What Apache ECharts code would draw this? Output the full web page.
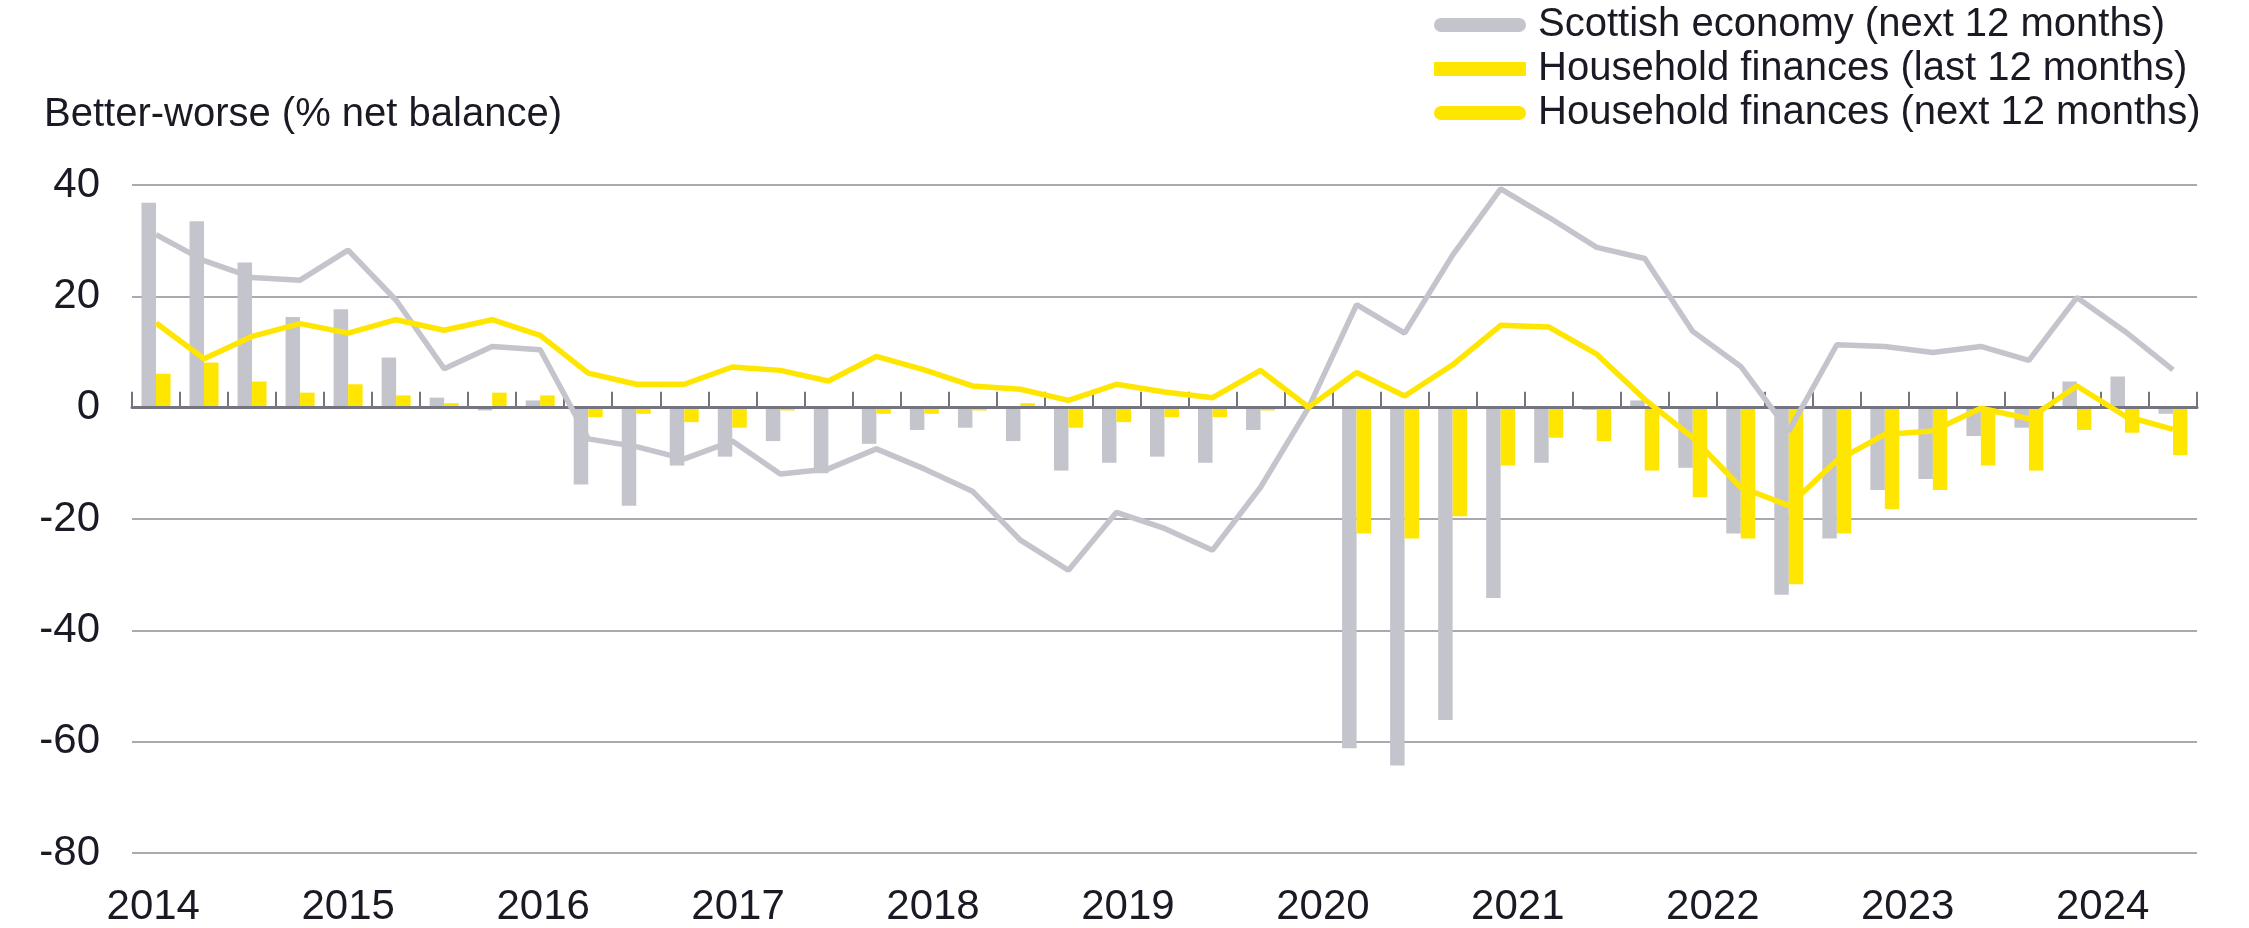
<!DOCTYPE html>
<html>
<head>
<meta charset="utf-8">
<script src="https://cdn.jsdelivr.net/npm/echarts@6/dist/echarts.min.js"></script>
<style>
  html, body { margin: 0; padding: 0; background: #fff; }
  #main { width: 2249px; height: 928px; }
</style>
</head>
<body>
<div id="main"></div>
<script>
const quarters = [
  '2014 Q1', '2014 Q2', '2014 Q3', '2014 Q4',
  '2015 Q1', '2015 Q2', '2015 Q3', '2015 Q4',
  '2016 Q1', '2016 Q2', '2016 Q3', '2016 Q4',
  '2017 Q1', '2017 Q2', '2017 Q3', '2017 Q4',
  '2018 Q1', '2018 Q2', '2018 Q3', '2018 Q4',
  '2019 Q1', '2019 Q2', '2019 Q3', '2019 Q4',
  '2020 Q1', '2020 Q2', '2020 Q3', '2020 Q4',
  '2021 Q1', '2021 Q2', '2021 Q3', '2021 Q4',
  '2022 Q1', '2022 Q2', '2022 Q3', '2022 Q4',
  '2023 Q1', '2023 Q2', '2023 Q3', '2023 Q4',
  '2024 Q1', '2024 Q2', '2024 Q3'
]
const yearLabels = [2014, 2015, 2016, 2017, 2018, 2019, 2020, 2021, 2022, 2023, 2024]

// grey bars (no legend entry in the original)
const scotLast = [
  36.8, 33.5, 26.1, 16.3, 17.7, 9.0, 1.8, -0.5, 1.3, -13.8,
  -17.6, -10.4, -8.8, -6.0, -11.8, -6.5, -4.0, -3.6, -6.0, -11.3,
  -9.9, -8.8, -9.9, -4.0, 0, -61.2, -64.3, -56.1, -34.2, -9.9,
  -0.4, 1.3, -10.8, -22.6, -33.6, -23.5, -14.8, -12.8, -5.1, -3.6,
  4.7, 5.6, -1.1
]
// yellow bars
const hhLast = [
  6.1, 8.1, 4.7, 2.7, 4.2, 2.2, 0.8, 2.7, 2.2, -1.7,
  -1.1, -2.6, -3.6, -0.5, 0.2, -1.1, -1.1, -0.5, 0.8, -3.6,
  -2.6, -1.7, -1.7, -0.5, 0, -22.6, -23.5, -19.5, -10.4, -5.4,
  -6.0, -11.3, -16.1, -23.5, -31.7, -22.6, -18.2, -14.8, -10.4, -11.3,
  -4.0, -4.5, -8.5
]
// grey line
const scotNext = [
  31.1, 26.4, 23.4, 22.9, 28.3, 19.3, 7.0, 11.0, 10.4, -5.6,
  -7.0, -9.2, -6.0, -11.9, -11.0, -7.4, -11.0, -15.0, -23.8, -29.2,
  -18.8, -21.7, -25.6, -14.3, 0, 18.5, 13.4, 27.4, 39.3, 34.2,
  28.8, 26.8, 13.7, 7.4, -4.2, 11.3, 11.0, 9.9, 11.0, 8.5,
  19.8, 13.7, 6.8
]
// yellow line
const hhNext = [
  15.2, 8.8, 12.8, 15.1, 13.4, 15.8, 13.9, 15.8, 13.0, 6.2,
  4.2, 4.2, 7.3, 6.7, 4.8, 9.2, 6.8, 3.9, 3.3, 1.3,
  4.2, 2.8, 1.8, 6.7, 0.1, 6.3, 2.1, 7.7, 14.8, 14.5,
  9.6, 1.5, -5.4, -14.3, -17.6, -9.5, -4.8, -4.2, -0.1, -2.0,
  3.9, -1.5, -3.9
]

const GREY = '#c4c4cd'
const YELLOW = '#ffe600'
const INK = '#1a1a24'
const FONT = 'Liberation Sans'
const pill = 'path://M7,0H85A7,7 0 0 1 85,14H7A7,7 0 0 1 7,0Z'

const chart = echarts.init(document.getElementById('main'))

chart.setOption({
  animation: false,
  textStyle: { fontFamily: FONT },
  title: {
    text: 'Better-worse (% net balance)',
    left: 39,
    top: 90,
    textStyle: { fontSize: 40, fontWeight: 'normal', color: INK, fontFamily: FONT }
  },
  legend: {
    orient: 'vertical',
    left: 1429,
    top: 0,
    itemGap: 4,
    itemWidth: 92,
    itemHeight: 14,
    selectedMode: false,
    textStyle: { fontSize: 40, color: INK, fontFamily: FONT, padding: [0, 0, 0, 7] },
    data: [
      { name: 'Scottish economy (next 12 months)', icon: pill },
      { name: 'Household finances (last 12 months)', icon: 'rect' },
      { name: 'Household finances (next 12 months)', icon: pill }
    ]
  },
  grid: { left: 132, right: 52, top: 185, bottom: 74 },
  xAxis: [{
    // zero line with quarter ticks
    type: 'category',
    data: quarters,
    position: 'bottom',
    z: 2,
    axisLine: { onZero: true, lineStyle: { color: '#747480', width: 3 } },
    axisTick: { show: true, inside: true, length: 16, interval: 0, lineStyle: { color: '#747480', width: 2 } },
    axisLabel: { show: false },
    splitLine: { show: false }
  }, {
    // year labels along the bottom
    type: 'value',
    min: 2013.891,
    max: 2024.484,
    position: 'bottom',
    axisLine: { show: false, onZero: false },
    axisTick: { show: false },
    splitLine: { show: false },
    axisLabel: {
      customValues: yearLabels,
      formatter: (v) => String(v),
      margin: 33,
      fontSize: 42,
      color: INK,
      fontFamily: FONT
    }
  }],
  yAxis: {
    type: 'value',
    min: -80,
    max: 40,
    interval: 20,
    axisLine: { show: false },
    axisTick: { show: false },
    axisLabel: { fontSize: 42, color: INK, margin: 32, fontFamily: FONT },
    splitLine: { lineStyle: { color: '#8e8d98', width: 1.5 } }
  },
  series: [{
    name: 'Scottish economy (last 12 months)',
    type: 'bar',
    data: scotLast,
    barWidth: 14.5,
    barGap: '0%',
    z: 1,
    itemStyle: { color: GREY }
  }, {
    name: 'Household finances (last 12 months)',
    type: 'bar',
    data: hhLast,
    barWidth: 14.5,
    z: 1,
    itemStyle: { color: YELLOW }
  }, {
    name: 'Scottish economy (next 12 months)',
    type: 'line',
    data: scotNext,
    symbol: 'none',
    z: 3,
    itemStyle: { color: GREY },
    lineStyle: { color: GREY, width: 5.5 }
  }, {
    name: 'Household finances (next 12 months)',
    type: 'line',
    data: hhNext,
    symbol: 'none',
    z: 4,
    itemStyle: { color: YELLOW },
    lineStyle: { color: YELLOW, width: 5.5 }
  }]
})
</script>
</body>
</html>
